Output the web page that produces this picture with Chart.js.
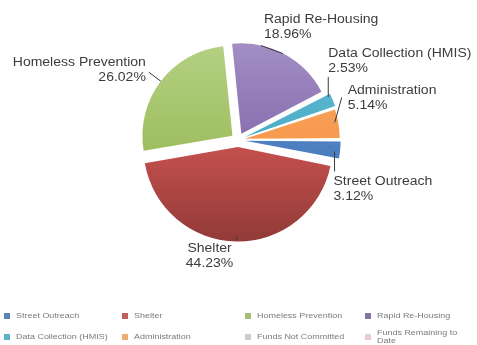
<!DOCTYPE html>
<html>
<head>
<meta charset="utf-8">
<script src="https://cdn.jsdelivr.net/npm/chart.js@4/dist/chart.umd.min.js"></script>
<style>
  html, body { margin: 0; padding: 0; background: #ffffff; }
  #wrap { width: 477px; height: 345px; position: relative; }
</style>
</head>
<body>
<div id="wrap"><canvas id="pie" width="477" height="345"></canvas></div>
<script>
// Funding allocation by activity (percent of total)
const categories = [
  'Street Outreach',
  'Shelter',
  'Homeless Prevention',
  'Rapid Re-Housing',
  'Data Collection (HMIS)',
  'Administration',
  'Funds Not Committed',
  'Funds Remaining to Date'
];
const shares = [3.12, 44.23, 26.02, 18.96, 2.53, 5.14, 0, 0];

// Slice colours: light (top), base, dark (bottom)
const sliceShades = [
  ['#6a96d6', '#4f80c2', '#3c67a3'],
  ['#d8605c', '#c4504d', '#8e3936'],
  ['#b6d288', '#a2c164', '#8aab4a'],
  ['#a591c6', '#8a70b0', '#6f5396'],
  ['#6cc0d8', '#4bacc6', '#3a93ab'],
  ['#f9ac6c', '#f79a4e', '#e5843a'],
  ['#cfcfcf', '#c4c4c4', '#b0b0b0'],
  ['#ead2dd', '#e3c4d2', '#d6b1c2']
];
const legendColors = ['#5d84b8', '#c0615e', '#a7bf7a', '#8473a0', '#5fb1c7', '#efab72', '#cdcdcd', '#e8cdd9'];

// Label placement relative to each slice's outer mid point:
// [textX, textY, align, leaderX1, leaderY1, leaderX2, leaderY2]
const labelPlacement = [
  [-1, 32, 'left', 0, 2, 0, 22],
  [-27, 12, 'center', 0, 0, 0, 3],
  [-15, -19, 'right', 0, 0, -12, -9],
  [-20, -35, 'left', -1, -1, -23, -9],
  [1, -48, 'left', 1, -5, 1, -25],
  [14, -34, 'left', 1, -2, 8, -27],
  null,
  null
];

const STRETCH = 1.12;
const FONT = '"Liberation Sans", Arial, sans-serif';

function stretchedText(ctx, text, x, y, align, size, color) {
  ctx.save();
  ctx.translate(x, y);
  ctx.scale(STRETCH, 1);
  ctx.font = size + 'px ' + FONT;
  ctx.fillStyle = color;
  ctx.textAlign = align;
  ctx.textBaseline = 'middle';
  ctx.fillText(text, 0, 0);
  ctx.restore();
}

function sliceFill(context) {
  const i = context.dataIndex;
  const shades = sliceShades[i];
  const chart = context.chart;
  const area = chart.chartArea;
  if (!area) return shades[1];
  const g = chart.ctx.createLinearGradient(0, area.top, 0, area.bottom);
  g.addColorStop(0, shades[0]);
  g.addColorStop(0.5, shades[1]);
  g.addColorStop(1, shades[2]);
  return g;
}

// Outside labels with leader lines
const sliceLabels = {
  id: 'sliceLabels',
  afterDatasetsDraw(chart) {
    const ctx = chart.ctx;
    const meta = chart.getDatasetMeta(0);
    meta.data.forEach((arc, i) => {
      const place = labelPlacement[i];
      if (!place || shares[i] === 0) return;
      const mid = (arc.startAngle + arc.endAngle) / 2;
      const shift = (arc.options.offset || 0) / 4;
      const dist = arc.outerRadius + shift;
      const ex = arc.x + Math.cos(mid) * dist;
      const ey = arc.y + Math.sin(mid) * dist;
      ctx.save();
      ctx.strokeStyle = '#3a3a3a';
      ctx.lineWidth = 1;
      ctx.beginPath();
      ctx.moveTo(ex + place[3], ey + place[4]);
      ctx.lineTo(ex + place[5], ey + place[6]);
      ctx.stroke();
      ctx.restore();
      const tx = ex + place[0];
      const ty = ey + place[1];
      stretchedText(ctx, categories[i], tx, ty, place[2], 12.5, '#3c3c3c');
      stretchedText(ctx, shares[i].toFixed(2) + '%', tx, ty + 15, place[2], 12.5, '#3c3c3c');
    });
  }
};

// Four-column legend underneath the pie
const gridLegend = {
  id: 'gridLegend',
  afterDraw(chart) {
    const ctx = chart.ctx;
    const cols = [4, 122, 245, 365];
    const rows = [316, 337];
    categories.forEach((name, i) => {
      const c = i % 4;
      const r = Math.floor(i / 4);
      const x = cols[c];
      const y = rows[r];
      ctx.fillStyle = legendColors[i];
      ctx.fillRect(x, y - 3, 6, 6);
      const words = name.split(' ');
      ctx.font = '8px ' + FONT;
      const maxW = 95;
      let lines = [name];
      if (ctx.measureText(name).width * STRETCH > maxW) {
        lines = [words.slice(0, -1).join(' '), words[words.length - 1]];
      }
      const lh = 8;
      const y0 = y - (lines.length - 1) * lh / 2;
      lines.forEach((ln, k) => stretchedText(ctx, ln, x + 12, y0 + k * lh, 'left', 8, '#7a7a7a'));
    });
  }
};

new Chart(document.getElementById('pie'), {
  type: 'pie',
  data: {
    labels: categories,
    datasets: [{
      data: shares,
      backgroundColor: sliceFill,
      borderWidth: 0,
      offset: 28
    }]
  },
  options: {
    responsive: false,
    animation: false,
    rotation: 90,
    radius: 90,
    layout: { padding: { left: 138, right: 139, top: 40, bottom: 105 } },
    plugins: {
      legend: { display: false },
      tooltip: { enabled: false }
    }
  },
  plugins: [sliceLabels, gridLegend]
});
</script>
</body>
</html>
